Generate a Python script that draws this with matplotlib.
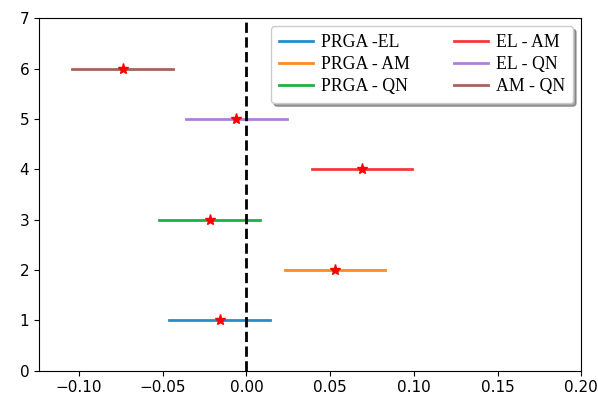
import matplotlib
matplotlib.use('Agg')
import matplotlib.pyplot as plt

# Pairwise differences: mean and half-width of the interval
labels = ['PRGA -EL', 'PRGA - AM', 'PRGA - QN', 'EL - AM', 'EL - QN', 'AM - QN']
positions = [1, 2, 3, 4, 5, 6]
means = [-0.016, 0.053, -0.022, 0.069, -0.006, -0.074]
half_widths = [0.030, 0.030, 0.030, 0.030, 0.030, 0.030]
colors = ['#1f8fd2', '#ff8a22', '#1faf48', '#f23a3a', '#b07fd2', '#a0665a']

fig = plt.figure(figsize=(5.98, 4.01), dpi=100)
ax = fig.add_axes([0.065, 0.076, 0.907, 0.878])

for m, h, y, c, lab in zip(means, half_widths, positions, colors, labels):
    ax.plot([m - h, m + h], [y, y], color=c, lw=2, label=lab)
    ax.plot(m, y, '*', color='red', ms=8)

ax.axvline(0, color='k', ls='--', lw=2)

ax.set_xlim(-0.124, 0.20)
ax.set_ylim(0, 7)
ax.tick_params(labelsize=11)

ax.legend(ncol=2, loc='upper right', shadow=True,
          prop={'family': 'Liberation Serif', 'size': 12.8},
          handlelength=1.9, handletextpad=0.45, columnspacing=2.5,
          labelspacing=0.28, borderpad=0.45, borderaxespad=0.45)

fig.savefig('out.png', dpi=100)
